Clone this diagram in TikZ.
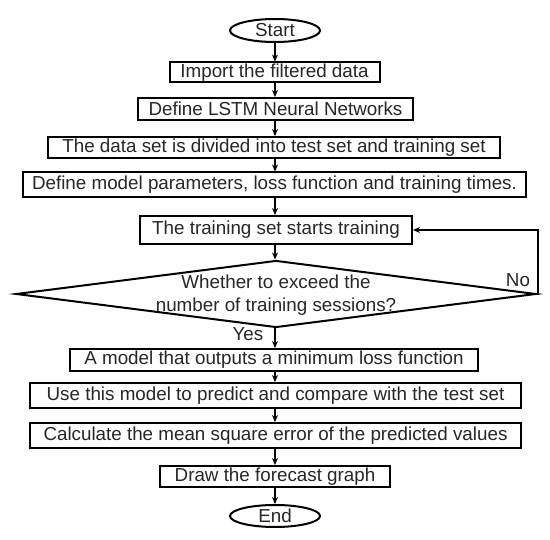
\documentclass[tikz,border=0pt]{standalone}
\usepackage{fontspec}
\setmainfont{Liberation Sans}
\usetikzlibrary{shapes.geometric,arrows.meta}
\begin{document}
\begin{tikzpicture}[x=1pt,y=-1pt,
 txt/.style={font=\fontsize{18.8}{23}\selectfont,text=black!85},
 box/.style={draw,line width=2pt,inner sep=0pt,txt},
 term/.style={ellipse,draw,line width=2pt,inner sep=0pt,txt,minimum width=90pt,minimum height=23pt},
 arr/.style={-{Stealth[length=7pt,width=6pt]},line width=1.3pt},
 lbl/.style={txt,inner sep=0pt}]
\useasboundingbox (0,0) rectangle (550,540);
\node[term] (start) at (275,30.5) {Start};
\node[box,minimum width=210pt,minimum height=20pt] (imp) at (274.5,72.5) {Import the filtered data};
\node[box,minimum width=275pt,minimum height=22pt] (lstm) at (275.5,109) {Define LSTM Neural Networks};
\node[box,minimum width=452pt,minimum height=21pt] (div) at (274,147.5) {The data set is divided into test set and training set};
\node[box,minimum width=503pt,minimum height=25pt] (par) at (274.5,185) {Define model parameters, loss function and training times.};
\node[box,minimum width=272pt,minimum height=28pt] (train) at (276,230) {The training set starts training};
\node[diamond,draw,line width=2pt,inner sep=0pt,minimum width=520pt,minimum height=67pt] (dia) at (276,294) {};
\node[lbl,align=center] (q) at (276,295) {Whether to exceed the\\number of training sessions?};
\node[box,minimum width=408pt,minimum height=22pt] (model) at (274,360) {A model that outputs a minimum loss function};
\node[box,minimum width=491pt,minimum height=25pt] (use) at (275.5,395.5) {Use this model to predict and compare with the test set};
\node[box,minimum width=491pt,minimum height=25pt] (calc) at (275.5,435.5) {Calculate the mean square error of the predicted values};
\node[box,minimum width=230pt,minimum height=21pt] (draw) at (275,476.5) {Draw the forecast graph};
\node[term,minimum height=22pt] (end) at (275,516) {End};
\node[lbl] (yes) at (248,334) {Yes};
\node[lbl] (no) at (518,280) {No};
\draw[arr] (start.south) -- (start.south |- imp.north);
\draw[arr] (start.south |- imp.south) -- (start.south |- lstm.north);
\draw[arr] (start.south |- lstm.south) -- (start.south |- div.north);
\draw[arr] (start.south |- div.south) -- (start.south |- par.north);
\draw[arr] (start.south |- par.south) -- (start.south |- train.north);
\draw[arr] (start.south |- train.south) -- (start.south |- dia.north);
\draw[arr] (start.south |- dia.south) -- (start.south |- model.north);
\draw[arr] (start.south |- model.south) -- (start.south |- use.north);
\draw[arr] (start.south |- use.south) -- (start.south |- calc.north);
\draw[arr] (start.south |- calc.south) -- (start.south |- draw.north);
\draw[arr] (start.south |- draw.south) -- (end.north);
\draw[arr] (dia.east) -- ++(1,0) |- (train.east);
\end{tikzpicture}
\end{document}
